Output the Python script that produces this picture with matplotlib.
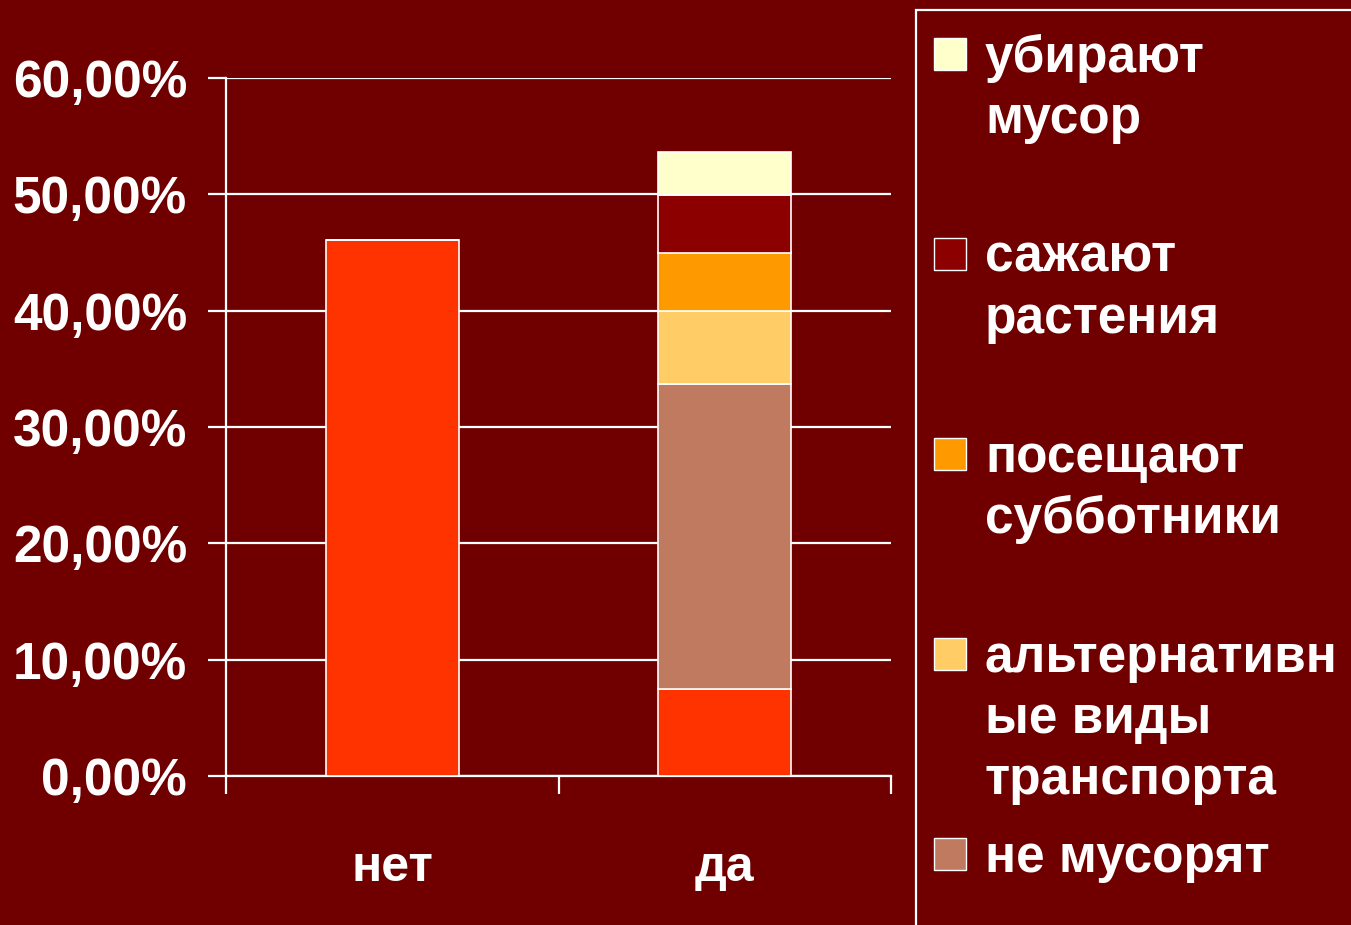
import matplotlib
matplotlib.use("Agg")
import matplotlib.pyplot as plt
from matplotlib.patches import Rectangle
from matplotlib.ticker import FuncFormatter, FixedLocator
import numpy as np

categories = ["нет", "да"]
# series (bottom to top of stack)
base_vals = [46.1, 7.5]          # "нет"/base segment
ne_musoryat = [0.0, 26.2]        # не мусорят
alt_transport = [0.0, 6.3]       # альтернативные виды транспорта
subbotniki = [0.0, 5.0]          # посещают субботники
sazhayut = [0.0, 4.9]            # сажают растения
ubirayut = [0.0, 3.75]           # убирают мусор

series_vals = [base_vals, ne_musoryat, alt_transport, subbotniki, sazhayut, ubirayut]
series_colors = ["#FF3300", "#BF7A60", "#FFCC66", "#FF9900", "#8C0000", "#FFFFCC"]

legend_labels = ["убирают\nмусор", "сажают\nрастения", "посещают\nсубботники",
                 "альтернативн\nые виды\nтранспорта", "не мусорят"]
legend_colors = ["#FFFFCC", "#8C0000", "#FF9900", "#FFCC66", "#BF7A60"]

yticks = [0, 10, 20, 30, 40, 50, 60]

BG = "#700000"
W, H = 1351, 925
fig = plt.figure(figsize=(W / 100, H / 100), dpi=100, facecolor=BG)
ax = fig.add_axes([226 / W, 1 - 776 / H, (891 - 226) / W, (776 - 78) / H])
ax.set_facecolor(BG)

x = np.arange(len(categories))
bottom = np.zeros(len(categories))
for vals, col in zip(series_vals, series_colors):
    v = np.array(vals)
    ax.bar(x, v, width=0.4, bottom=bottom, color=col, edgecolor="white",
           linewidth=1.2, zorder=3)
    bottom += v

ax.set_xlim(-0.5, 1.5)
ax.set_ylim(0, 60)
ax.set_yticks(yticks)
ax.yaxis.set_major_formatter(FuncFormatter(lambda v, p: f"{v:.2f}".replace(".", ",") + "%"))
ax.grid(axis="y", color="white", linewidth=1.6, zorder=1)
for s in ["top", "right"]:
    ax.spines[s].set_visible(False)
ax.spines["left"].set_color("white")
ax.spines["left"].set_linewidth(1.6)
ax.spines["bottom"].set_color("white")
ax.spines["bottom"].set_linewidth(1.6)

ax.tick_params(axis="y", colors="white", length=13, width=1.6, pad=15,
               labelsize=37)
ax.set_xticks(x)
ax.set_xticklabels(categories)
ax.xaxis.set_minor_locator(FixedLocator([-0.5, 0.5, 1.5]))
ax.tick_params(axis="x", which="major", length=0, pad=50, colors="white", labelsize=36)
ax.tick_params(axis="x", which="minor", length=13, width=1.6, color="white")
for lab in ax.get_yticklabels() + ax.get_xticklabels():
    lab.set_fontfamily("Liberation Sans")
    lab.set_fontweight("bold")
    lab.set_color("white")

# legend box (extends beyond figure edges)
fig.patches.append(Rectangle((916 / W, -0.2), 1, 1.2 - 10 / H, transform=fig.transFigure,
                             facecolor="none", edgecolor="white", linewidth=1.6))
for i, (lab, col) in enumerate(zip(legend_labels, legend_colors)):
    base = 72 + 200 * i
    fig.patches.append(Rectangle((934 / W, 1 - (base - 2) / H), 32 / W, 32 / H,
                                 transform=fig.transFigure, facecolor=col,
                                 edgecolor="white", linewidth=1.0))
    for k, line in enumerate(lab.split("\n")):
        fig.text(985 / W, 1 - (base + 61 * k) / H, line, color="white", fontsize=37,
                 fontfamily="Liberation Sans", fontweight="bold",
                 va="baseline", ha="left")

fig.savefig("out.png", dpi=100, facecolor=BG)
